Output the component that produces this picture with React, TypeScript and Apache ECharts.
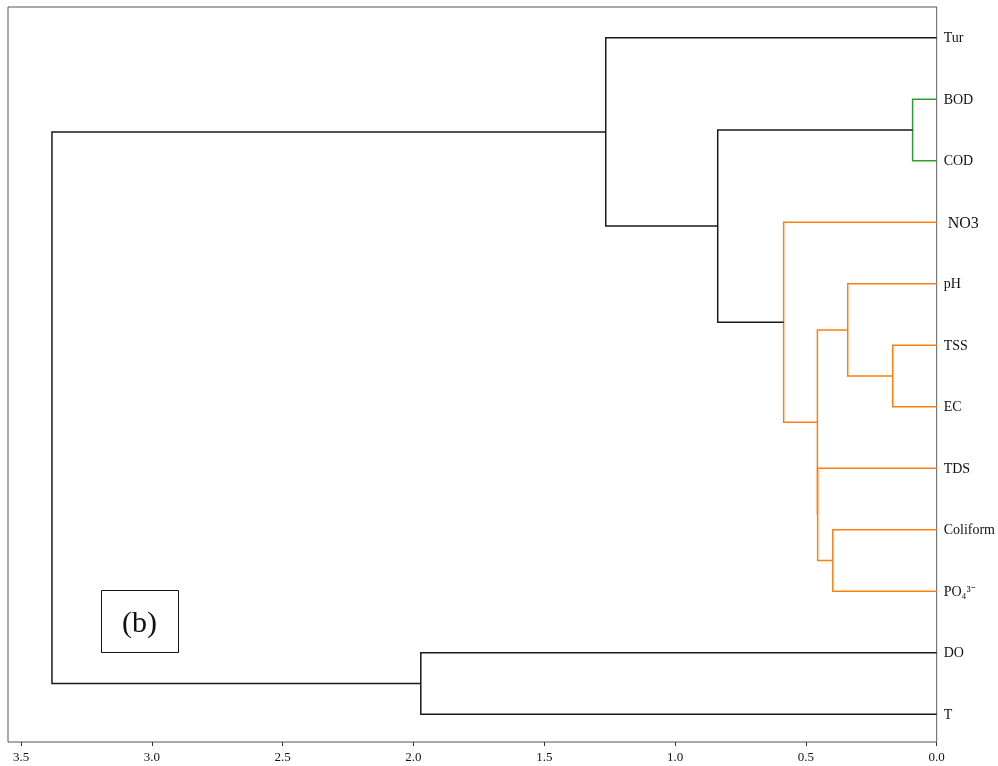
import React, { useEffect, useRef } from "react";
import * as echarts from "echarts";

// Leaf labels in dendrogram order (top to bottom)
const leafLabels = ["Tur", "BOD", "COD", "NO3", "pH", "TSS", "EC", "TDS", "Coliform", "PO₄³⁻", "DO", "T"];

// Linkage: pair merged at each step (ids >= 12 are earlier clusters) and distance
const mergeLeft = [1, 5, 4, 8, 7, 14, 3, 12, 0, 10, 20];
const mergeRight = [2, 6, 13, 9, 15, 16, 17, 18, 19, 11, 21];
const mergeHeight = [0.092, 0.168, 0.34, 0.397, 0.455, 0.456, 0.585, 0.837, 1.265, 1.972, 3.382];
// Colour group per merge: 0 = above threshold, 1 = orange cluster, 2 = green cluster
const mergeGroup = [2, 1, 1, 1, 1, 1, 1, 0, 0, 0, 0];

const groupColors = ["#1a1a1a", "#ff7f0e", "#2ca02c"];

function buildLinks() {
  const n = leafLabels.length;
  const pos: number[] = [];
  const hgt: number[] = [];
  for (let i = 0; i < n; i++) {
    pos.push(10 * i + 5);
    hgt.push(0);
  }
  const links: number[][] = [];
  for (let k = 0; k < mergeLeft.length; k++) {
    const a = mergeLeft[k];
    const b = mergeRight[k];
    const h = mergeHeight[k];
    links.push([pos[a], hgt[a], pos[b], hgt[b], h, mergeGroup[k]]);
    pos.push((pos[a] + pos[b]) / 2);
    hgt.push(h);
  }
  return links;
}

export default function App() {
  const ref = useRef<HTMLDivElement>(null);
  useEffect(() => {
    if (!ref.current) return;
    const chart = echarts.init(ref.current, undefined, { renderer: "svg" });
    const links = buildLinks();
    const serif = "'Liberation Serif', 'Times New Roman', serif";
    // leaf label for a y value (leaves sit at 5, 15, 25, ...)
    const leafAt = (v: number) => {
      const i = (v - 5) / 10;
      if (Math.abs(i - Math.round(i)) > 1e-6) return "";
      const name = leafLabels[Math.round(i)];
      if (name === undefined) return "";
      return name === "NO3" ? "{big| " + name + "}" : name;
    };
    chart.setOption({
      animation: false,
      grid: {
        left: 8,
        top: 7,
        right: 61,
        bottom: 24,
        show: true,
        borderColor: "#555",
        borderWidth: 1,
        backgroundColor: "#fff",
      },
      xAxis: {
        type: "value",
        inverse: true,
        min: 0,
        max: 3.55,
        interval: 0.5,
        position: "bottom",
        axisLine: { show: false, onZero: false },
        axisTick: { show: true, length: 4, lineStyle: { color: "#333" } },
        splitLine: { show: false },
        axisLabel: {
          color: "#111",
          fontFamily: serif,
          fontSize: 13,
          margin: 8,
          showMaxLabel: false,
          formatter: (v: number) => v.toFixed(1),
        },
      },
      yAxis: [
        {
          type: "value",
          min: 0,
          max: 119.5,
          inverse: true,
          show: false,
        },
        {
          type: "value",
          min: 0,
          max: 119.5,
          interval: 5,
          inverse: true,
          position: "right",
          axisLine: { show: true, onZero: false, lineStyle: { color: "#777", width: 1 } },
          axisTick: { show: false },
          splitLine: { show: false },
          axisLabel: {
            color: "#111",
            fontFamily: serif,
            fontSize: 14,
            margin: 7,
            showMinLabel: true,
            showMaxLabel: false,
            formatter: leafAt,
            rich: {
              big: { fontFamily: serif, fontSize: 16, color: "#111" },
            },
          },
        },
      ],
      graphic: [
        {
          type: "rect",
          left: 101,
          top: 590,
          shape: { width: 77, height: 62 },
          style: { fill: "#fff", stroke: "#111", lineWidth: 1 },
          z: 10,
        },
        {
          type: "text",
          x: 139.5,
          y: 621,
          style: {
            text: "(b)",
            fontFamily: serif,
            fontSize: 30,
            fill: "#111",
            align: "center",
            verticalAlign: "middle",
          },
          z: 11,
        },
      ],
      series: [
        {
          type: "custom",
          xAxisIndex: 0,
          yAxisIndex: 0,
          data: links,
          renderItem: (_params: any, api: any) => {
            const y1 = api.value(0);
            const h1 = api.value(1);
            const y2 = api.value(2);
            const h2 = api.value(3);
            const h = api.value(4);
            const g = api.value(5);
            const pts = [
              api.coord([h1, y1]),
              api.coord([h, y1]),
              api.coord([h, y2]),
              api.coord([h2, y2]),
            ];
            return {
              type: "polyline",
              shape: { points: pts },
              style: { fill: "none", stroke: groupColors[g], lineWidth: 1.5 },
            };
          },
        },
      ],
    });
    return () => chart.dispose();
  }, []);
  return (
    <div
      ref={ref}
      style={{ position: "fixed", left: 0, top: 0, width: 998, height: 766 }}
    />
  );
}
